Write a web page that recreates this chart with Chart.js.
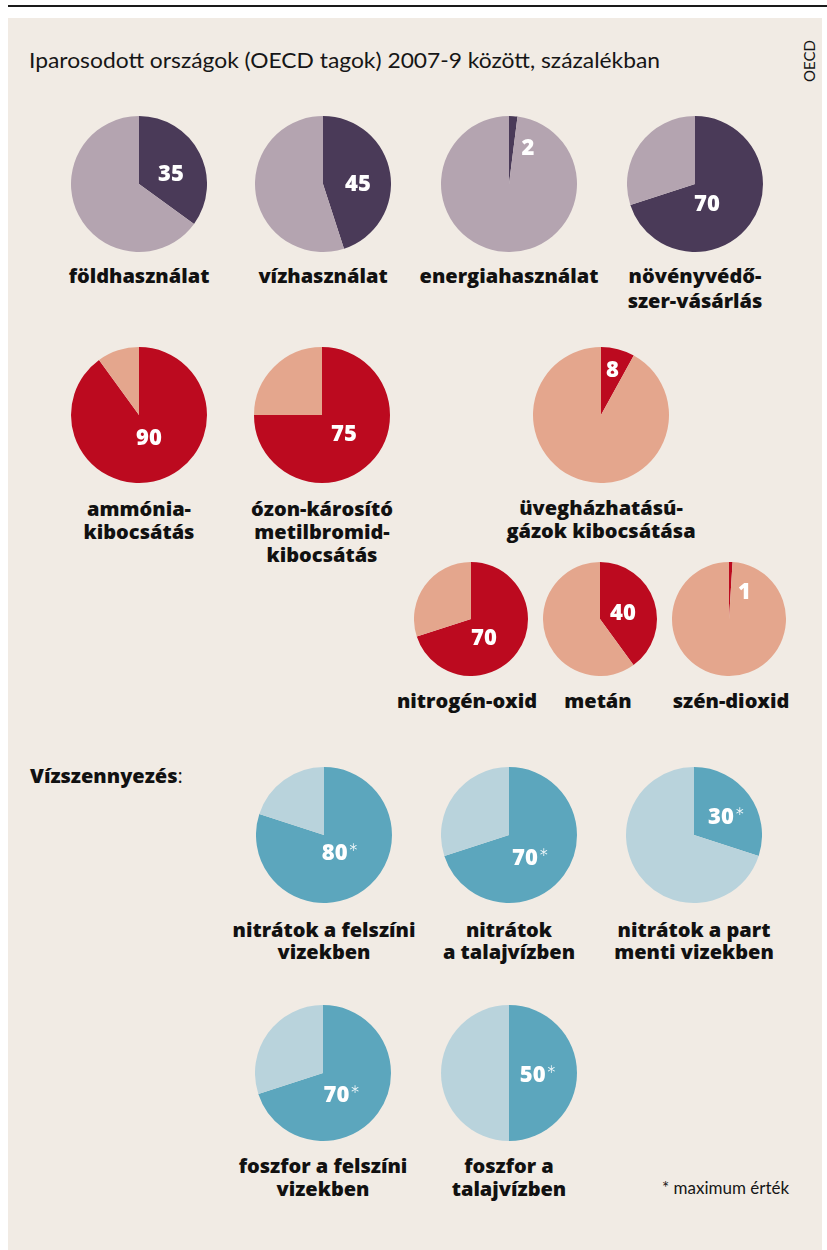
<!DOCTYPE html>
<html><head><meta charset="utf-8">
<script src="https://cdn.jsdelivr.net/npm/chart.js@4"></script>
<style>
html,body{margin:0;padding:0;background:#fff;}
body{width:827px;height:1250px;position:relative;overflow:hidden;font-family:"Open Sans",sans-serif;}
#rule{position:absolute;left:8px;top:5px;width:819px;height:2px;background:#1a1a1a;}
#panel{position:absolute;left:8px;top:18px;width:814px;height:1232px;background:#f1ebe4;}
.pie{position:absolute;}
.lbl{position:absolute;text-align:center;font-weight:800;font-size:20px;line-height:23.5px;color:#111;white-space:nowrap;transform:translateX(-50%);}
#title{position:absolute;left:29px;top:45px;font-family:Lato,sans-serif;font-size:21px;line-height:30px;color:#161616;white-space:nowrap;transform-origin:0 50%;}
#src{position:absolute;left:809px;top:61px;font-family:Lato,sans-serif;font-size:15px;color:#161616;transform:translate(-50%,-50%) rotate(-90deg);white-space:nowrap;}
#water{position:absolute;left:30px;top:764px;font-weight:800;font-size:20px;line-height:24px;color:#111;white-space:nowrap;}
#water span{font-weight:400;}
#note{position:absolute;left:662px;top:1177px;font-family:Lato,sans-serif;font-size:17px;line-height:22px;color:#161616;white-space:nowrap;}
</style></head><body>
<div id="rule"></div>
<div id="panel"></div>
<div id="title">Iparosodott országok (OECD tagok) 2007-9 között, százalékban</div>
<div id="src">OECD</div>
<div id="water">Vízszennyezés<span>:</span></div>
<div id="note">* maximum érték</div>
<script>
// ---- data ----
const categories = [
  ['földhasználat'], ['vízhasználat'], ['energiahasználat'], ['növényvédő-', 'szer-vásárlás'],
  ['ammónia-', 'kibocsátás'], ['ózon-károsító', 'metilbromid-', 'kibocsátás'], ['üvegházhatású-', 'gázok kibocsátása'],
  ['nitrogén-oxid'], ['metán'], ['szén-dioxid'],
  ['nitrátok a felszíni', 'vizekben'], ['nitrátok', 'a talajvízben'], ['nitrátok a part', 'menti vizekben'],
  ['foszfor a felszíni', 'vizekben'], ['foszfor a', 'talajvízben']
];
const shares = [35, 45, 2, 70, 90, 75, 8, 70, 40, 1, 80, 70, 30, 70, 50];
const isMaximum = [false, false, false, false, false, false, false, false, false, false, true, true, true, true, true];
const groups = ['resource', 'resource', 'resource', 'resource', 'air', 'air', 'air', 'air', 'air', 'air', 'water', 'water', 'water', 'water', 'water'];

// ---- styles / layout ----
const palette = {
  resource: ['#4a3a58', '#b4a4b0'],
  air: ['#bc0a1f', '#e4a68d'],
  water: ['#5ca6bd', '#b9d3dc']
};
const layout = [
  {cx:139, cy:184, r:68, lx:32, ly:-11, ty:275, lh:25},
  {cx:323, cy:184, r:68, lx:35, ly:-1, ty:275, lh:25},
  {cx:509, cy:184, r:68, lx:19, ly:-37, ty:275, lh:25},
  {cx:695, cy:184, r:68, lx:12, ly:19, ty:275, lh:25},
  {cx:139, cy:415, r:68, lx:10, ly:22, ty:508, lh:23},
  {cx:322, cy:415, r:68, lx:22, ly:18, ty:508, lh:23},
  {cx:601, cy:415, r:68, lx:11.5, ly:-46, ty:507, lh:23},
  {cx:471, cy:619, r:57, lx:13, ly:18, ty:700, lh:23, tx:467},
  {cx:600, cy:619, r:57, lx:23, ly:-7, ty:700, lh:23, tx:598},
  {cx:729, cy:619, r:57, lx:15.5, ly:-28, ty:700, lh:23, tx:731},
  {cx:324, cy:835, r:68, lx:10.7, ly:17, ty:930, lh:22},
  {cx:509, cy:835, r:68, lx:16, ly:22, ty:930, lh:22},
  {cx:694, cy:835, r:68, lx:27, ly:-19, ty:930, lh:22},
  {cx:323, cy:1073, r:68, lx:13.4, ly:21, ty:1165, lh:23},
  {cx:509, cy:1073, r:68, lx:23.7, ly:1, ty:1165, lh:23}
];

const valueLabel = {
  id: 'valueLabel',
  afterDatasetsDraw(chart, args, opts) {
    const arc = chart.getDatasetMeta(0).data[0];
    const ctx = chart.ctx;
    const x = arc.x + opts.dx, y = arc.y + opts.dy;
    ctx.save();
    ctx.fillStyle = '#ffffff';
    ctx.font = '800 22px "Open Sans"';
    ctx.textAlign = 'center';
    ctx.textBaseline = 'alphabetic';
    const base = y + 8;
    ctx.fillText(opts.text, x, base);
    if (opts.star) {
      const w = ctx.measureText(opts.text).width;
      ctx.font = '300 25px Lato';
      ctx.textAlign = 'left';
      ctx.fillText('*', x + w / 2 + 0.5, base + 3);
    }
    ctx.restore();
  }
};

categories.forEach((lines, i) => {
  const L = layout[i];
  const box = document.createElement('div');
  box.className = 'pie';
  box.style.left = (L.cx - L.r) + 'px';
  box.style.top = (L.cy - L.r) + 'px';
  const cv = document.createElement('canvas');
  cv.width = 2 * L.r; cv.height = 2 * L.r;
  cv.style.width = 2 * L.r + 'px'; cv.style.height = 2 * L.r + 'px';
  box.appendChild(cv);
  document.body.appendChild(box);
  const cols = palette[groups[i]];
  new Chart(cv, {
    type: 'pie',
    data: {
      labels: [lines.join(' '), 'egyéb'],
      datasets: [{ data: [shares[i], 100 - shares[i]], backgroundColor: cols, borderWidth: 0, hoverOffset: 0, offset: 0 }]
    },
    options: {
      responsive: false, animation: false, events: [],
      layout: { padding: 0 },
      plugins: {
        legend: { display: false }, tooltip: { enabled: false },
        valueLabel: { text: String(shares[i]), star: isMaximum[i], dx: L.lx, dy: L.ly }
      }
    },
    plugins: [valueLabel]
  });
  const lb = document.createElement('div');
  lb.className = 'lbl';
  lb.style.left = (L.tx || L.cx) + 'px';
  lb.style.top = (L.ty - L.lh / 2) + 'px';
  lb.style.lineHeight = L.lh + 'px';
  lb.innerHTML = lines.join('<br>');
  document.body.appendChild(lb);
});

// fit title width to reference
const t = document.getElementById('title');
const tw = t.getBoundingClientRect().width;
t.style.transform = 'scaleX(' + (631 / tw) + ')';
</script>
</body></html>
